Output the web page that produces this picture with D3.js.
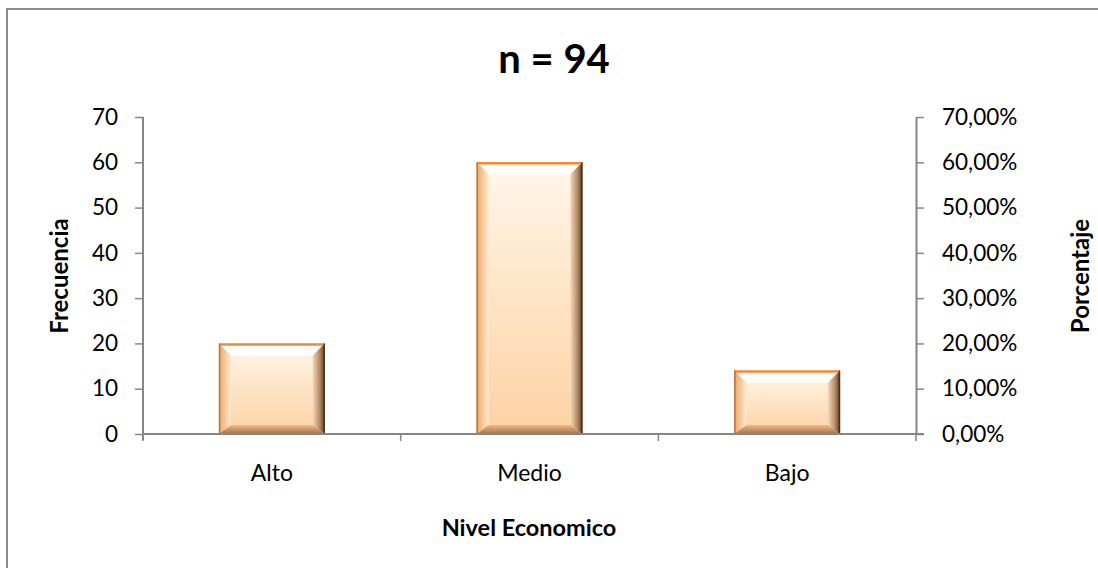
<!DOCTYPE html>
<html><head><meta charset="utf-8">
<script src="https://cdnjs.cloudflare.com/ajax/libs/d3/7.8.5/d3.min.js"></script>
<style>body{margin:0;background:#fff}svg{display:block}text{font-family:Lato,"Open Sans",sans-serif;fill:#000}</style>
</head><body><svg id="c" width="1098" height="568"></svg>
<script>
const categories = ["Alto", "Medio", "Bajo"];
const frecuencia = [20, 60, 14];
const freqTicks = [0, 10, 20, 30, 40, 50, 60, 70];
const pctTicks = [0, 0.1, 0.2, 0.3, 0.4, 0.5, 0.6, 0.7];
const title = "n = 94";
const xTitle = "Nivel Economico";
const yTitle = "Frecuencia";
const y2Title = "Porcentaje";

const svg = d3.select("#c");
const L = 143, R = 916, T = 117, B = 434;
const x = d3.scaleBand().domain(categories).range([L, R]).paddingInner(0.59).paddingOuter(0.295);
const y = d3.scaleLinear().domain([0, 70]).range([B, T]);
const y2 = d3.scaleLinear().domain([0, 0.7]).range([B, T]);
const loc = d3.formatLocale({decimal: ",", thousands: ".", grouping: [3], currency: ["", "€"]});
const pf = loc.format(".2%");

// frame
svg.append("rect").attr("x", 7).attr("y", 9).attr("width", 1200).attr("height", 700)
  .attr("fill", "none").attr("stroke", "#8c8c8c").attr("stroke-width", 2);

// gradients
const defs = svg.append("defs");
function lg(id, x1, y1, x2, y2_, stops) {
  const g = defs.append("linearGradient").attr("id", id).attr("x1", x1).attr("y1", y1).attr("x2", x2).attr("y2", y2_);
  stops.forEach(s => g.append("stop").attr("offset", s[0]).attr("stop-color", s[1]));
}
lg("face", 0, 0, 0, 1, [[0, "#fff6ea"], [1, "#fdd2a2"]]);
lg("bTop", 0, 0, 0, 1, [[0, "#fffaf3"], [1, "#ffffff"]]);
lg("bLeft", 0, 0, 1, 0, [[0, "#e9a868"], [1, "#ffe9d0"]]);
lg("bRight", 0, 0, 1, 0, [[0, "#f5d8bb"], [0.6, "#b38a66"], [1, "#5a3b22"]]);
lg("bBot", 0, 0, 0, 1, [[0, "#efbb8a"], [1, "#a47048"]]);

// axes
const gy = svg.append("g").attr("transform", `translate(${L},0)`)
  .call(d3.axisLeft(y).tickValues(freqTicks).tickSize(8).tickPadding(17).tickSizeOuter(0));
const gy2 = svg.append("g").attr("transform", `translate(${R},0)`)
  .call(d3.axisRight(y2).tickValues(pctTicks).tickFormat(pf).tickSize(8).tickPadding(18).tickSizeOuter(0));
[gy, gy2].forEach(g => {
  g.select(".domain").attr("stroke", "#868686").attr("stroke-width", 2);
  g.selectAll(".tick line").attr("stroke", "#868686").attr("stroke-width", 1.5);
  g.selectAll(".tick text").style("font-size", "22.5px").attr("fill", "#000");
});
gy.select(".domain").remove();
gy.append("line").attr("x1", 0).attr("x2", 0).attr("y1", T).attr("y2", B + 6).attr("stroke", "#868686").attr("stroke-width", 2);

// x axis
const gx = svg.append("g").attr("transform", `translate(0,${B})`);
gx.append("line").attr("x1", L).attr("x2", R + 8).attr("y1", 0).attr("y2", 0).attr("stroke", "#868686").attr("stroke-width", 2);
const bounds = [L].concat(categories.map(c => x(c) + x.bandwidth() / 2 + x.step() / 2));
gx.selectAll(".bt").data(bounds).join("line").attr("x1", d => d).attr("x2", d => d)
  .attr("y1", 0).attr("y2", 7).attr("stroke", "#868686").attr("stroke-width", 1.5);
gx.selectAll(".cl").data(categories).join("text")
  .attr("x", d => x(d) + x.bandwidth() / 2).attr("y", 47).attr("text-anchor", "middle")
  .style("font-size", "23px").text(d => d);

// bars
const bars = svg.append("g").selectAll("g").data(categories).join("g");
bars.each(function (c, i) {
  const g = d3.select(this);
  const x0 = x(c), w = x.bandwidth(), y0 = y(frecuencia[i]), h = B - y0;
  const bv = Math.min(12, h / 3), bb = Math.min(9, h / 4);
  g.append("rect").attr("x", x0).attr("y", y0).attr("width", w).attr("height", h).attr("fill", "url(#face)");
  const pt = a => a.map(p => p.join(",")).join(" ");
  g.append("polygon").attr("points", pt([[x0, y0], [x0 + w, y0], [x0 + w - bv, y0 + bv], [x0 + bv, y0 + bv]])).attr("fill", "url(#bTop)");
  g.append("polygon").attr("points", pt([[x0, y0], [x0 + bv, y0 + bv], [x0 + bv, B - bb], [x0, B]])).attr("fill", "url(#bLeft)");
  g.append("polygon").attr("points", pt([[x0 + w, y0], [x0 + w, B], [x0 + w - bv, B - bb], [x0 + w - bv, y0 + bv]])).attr("fill", "url(#bRight)");
  g.append("polygon").attr("points", pt([[x0, B], [x0 + bv, B - bb], [x0 + w - bv, B - bb], [x0 + w, B]])).attr("fill", "url(#bBot)");
  g.append("line").attr("x1", x0).attr("x2", x0 + w).attr("y1", y0 + 1).attr("y2", y0 + 1).attr("stroke", "#f08a36").attr("stroke-width", 2.5);
  g.append("line").attr("x1", x0 + 0.5).attr("x2", x0 + 0.5).attr("y1", y0).attr("y2", B).attr("stroke", "#b8743a").attr("stroke-width", 1.5);
  g.append("line").attr("x1", x0 + w - 0.5).attr("x2", x0 + w - 0.5).attr("y1", y0).attr("y2", B).attr("stroke", "#4a3018").attr("stroke-width", 1.5);
});
// redraw x axis line over bars
svg.append("line").attr("x1", L).attr("x2", R).attr("y1", B).attr("y2", B).attr("stroke", "#868686").attr("stroke-width", 2);

// titles
svg.append("text").attr("x", 554).attr("y", 73).attr("text-anchor", "middle")
  .style("font-size", "40px").style("font-weight", "bold").text(title);
svg.append("text").attr("x", 529).attr("y", 536).attr("text-anchor", "middle")
  .style("font-size", "23.5px").style("font-weight", "bold").text(xTitle);
svg.append("text").attr("transform", "translate(68,276) rotate(-90)").attr("text-anchor", "middle")
  .style("font-size", "24px").style("font-weight", "bold").text(yTitle);
svg.append("text").attr("transform", "translate(1089,276) rotate(-90)").attr("text-anchor", "middle")
  .style("font-size", "24px").style("font-weight", "bold").text(y2Title);
</script></body></html>
